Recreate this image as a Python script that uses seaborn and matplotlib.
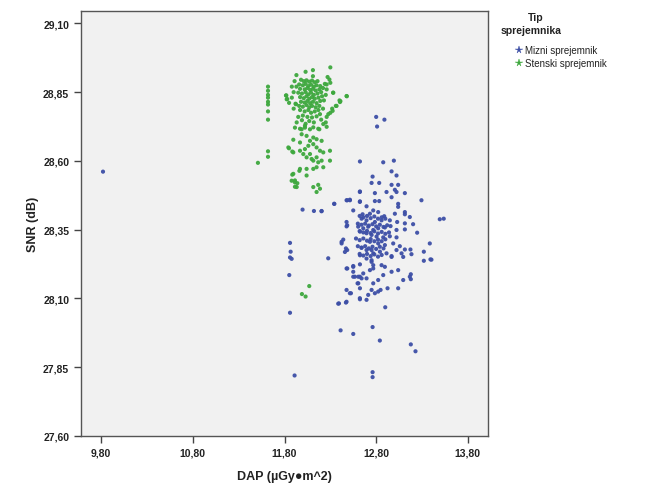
import matplotlib
matplotlib.use("Agg")
import matplotlib.pyplot as plt
import seaborn as sns
import pandas as pd
from matplotlib.lines import Line2D
from matplotlib.ticker import FuncFormatter

# ---------------- data ----------------
group_names = ["Mizni sprejemnik", "Stenski sprejemnik"]
group_colors = ["#3d4fa6", "#3ea83e"]

x_ticks = [9.80, 10.80, 11.80, 12.80, 13.80]
y_ticks = [27.60, 27.85, 28.10, 28.35, 28.60, 28.85, 29.10]

stenski_dap = [
    11.62, 11.62, 11.62, 11.62, 11.62, 11.62, 11.62, 11.62, 11.62, 11.62, 11.51, 12.07, 11.99, 12.03,
    12.11, 12.30, 12.03, 11.93, 12.11, 12.29, 12.30, 12.26,
    11.98, 12.01, 12.04, 12.07, 12.10, 12.13, 12.16,
    11.96, 12.00, 12.03, 12.06, 12.09, 12.12, 12.15, 12.19,
    11.97, 12.02, 12.05, 12.08, 12.11, 12.14, 12.18, 12.22,
    11.95, 11.99, 12.03, 12.06, 12.09, 12.12, 12.16, 12.20,
    11.97, 12.01, 12.04, 12.07, 12.10, 12.13, 12.17, 12.21,
    11.98, 12.02, 12.05, 12.08, 12.11, 12.15, 12.19,
    11.96, 12.00, 12.04, 12.07, 12.10, 12.14, 12.18,
    11.82, 11.83, 11.92, 12.33, 12.40, 12.36, 12.32, 12.30, 12.26, 12.25, 12.48, 12.41, 11.85,
    11.914, 11.969, 12.023, 12.078, 12.168, 11.987, 12.041, 12.114, 12.15, 11.896, 12.205, 12.078,
    11.969, 11.842, 11.896, 11.969, 12.023, 12.06, 12.114, 12.15, 12.187, 12.223, 12.296, 12.005,
    12.041, 12.078, 12.096, 12.114, 12.15, 12.168, 12.205, 12.223, 12.296, 11.969, 12.041, 12.114,
    12.15, 11.896, 12.041, 11.914, 11.933, 12.114, 12.168, 12.187, 12.15,
    11.933, 12.023, 12.114, 12.18, 11.987, 12.223, 12.26, 12.325, 12.278, 12.187, 12.405, 12.368,
    12.477, 12.332, 11.816, 11.824, 11.925,
    11.97, 12.02, 12.06, 12.09, 12.13, 12.17, 12.00, 12.05, 12.10, 12.15, 11.99, 12.07, 12.12, 12.20,
    11.95, 12.03,
    11.849, 11.885, 11.878, 11.914, 11.94, 11.914, 11.962, 11.885,
    11.88, 11.90, 11.88, 11.91, 12.24, 12.26, 12.25, 12.23, 11.90, 12.22, 11.93, 12.27,
]
stenski_snr = [
    28.87, 28.855, 28.84, 28.83, 28.815, 28.805, 28.78, 28.75, 28.635, 28.615, 28.593, 28.145, 28.116, 28.107,
    28.930, 28.940, 28.924, 28.912, 28.908, 28.896, 28.884, 28.878,
    28.895, 28.89, 28.893, 28.888, 28.892, 28.886, 28.89,
    28.878, 28.875, 28.88, 28.872, 28.877, 28.87, 28.875, 28.872,
    28.862, 28.86, 28.865, 28.858, 28.862, 28.856, 28.86, 28.865,
    28.848, 28.845, 28.85, 28.842, 28.848, 28.84, 28.845, 28.85,
    28.832, 28.828, 28.835, 28.826, 28.832, 28.826, 28.83, 28.835,
    28.815, 28.812, 28.818, 28.81, 28.815, 28.81, 28.818,
    28.80, 28.797, 28.803, 28.795, 28.80, 28.795, 28.80,
    28.838, 28.825, 28.808, 28.848, 28.82, 28.80, 28.79, 28.775, 28.76, 28.74, 28.835, 28.817, 28.811,
    28.721, 28.717, 28.721, 28.715, 28.717, 28.697, 28.691, 28.685, 28.679, 28.677, 28.673, 28.673,
    28.667, 28.649, 28.631, 28.637, 28.643, 28.655, 28.661, 28.649, 28.637, 28.631, 28.637, 28.625,
    28.613, 28.625, 28.607, 28.601, 28.613, 28.595, 28.601, 28.577, 28.601, 28.571, 28.571, 28.571,
    28.577, 28.553, 28.547, 28.529, 28.505, 28.505, 28.513, 28.499, 28.487,
    28.74, 28.728, 28.722, 28.715, 28.715, 28.734, 28.724, 28.782, 28.77, 28.77, 28.814, 28.80,
    28.836, 28.848, 28.838, 28.824, 28.806,
    28.785, 28.78, 28.785, 28.775, 28.78, 28.785, 28.765, 28.76, 28.758, 28.762, 28.748, 28.745, 28.74, 28.75,
    28.76, 28.735,
    28.646, 28.634, 28.528, 28.522, 28.519, 28.506, 28.564, 28.55,
    28.87, 28.85, 28.83, 28.89, 28.88, 28.86, 28.84, 28.82, 28.79, 28.79, 28.87, 28.905,
]

mizni_dap = [
    9.82, 12.80, 12.89, 12.81, 11.997, 12.121, 12.204, 12.342, 12.484, 12.513, 12.622, 12.622,
    11.86, 11.867, 11.86, 11.878, 11.852, 12.277, 12.477, 12.484, 12.423, 12.441, 12.47, 12.484,
    12.477, 12.55, 12.55, 12.568, 12.605, 12.477, 12.513, 12.622, 12.386, 12.47, 11.86, 11.91,
    12.761, 12.761, 12.412, 12.55, 12.761, 12.84, 13.178, 13.229, 12.899, 12.394, 12.477, 12.623,
    12.695, 12.525, 12.623, 12.713, 12.786, 12.822, 12.848, 12.75, 12.924, 13.04, 12.597, 12.641,
    12.695, 12.768, 12.822, 13.095, 12.968, 13.178, 13.178, 12.485, 12.623, 12.623, 12.695, 12.75,
    12.768, 12.732, 12.659, 12.605, 13.403, 13.185, 13.095, 12.968, 12.459, 12.877,
    12.623, 12.877, 12.993, 12.968, 13.022, 12.761, 12.75, 12.833, 12.968, 13.04, 13.004, 12.623,
    12.786, 12.913, 13.022, 13.113, 12.968, 12.477, 12.514, 12.623, 12.786, 12.833, 12.343, 13.04,
    13.04, 13.294, 12.695, 12.768, 12.55, 12.205, 13.113, 13.113, 13.167, 13.494, 13.537, 13.004,
    12.888, 12.652, 12.732, 12.822, 12.477, 12.641, 12.695, 12.786, 12.859, 12.949, 13.029, 13.113,
    13.203, 13.247, 13.113, 13.022, 12.604, 12.659, 12.713, 12.768, 12.822, 12.895, 12.957, 12.623,
    12.695, 12.75, 12.804, 12.877, 12.949, 13.022, 12.732, 12.822, 12.895, 12.986, 13.058, 12.423,
    12.641, 12.695, 12.75, 12.768, 12.841, 12.913, 12.968, 13.022, 13.077, 13.113, 13.174, 13.385,
    13.32, 13.392, 13.32, 12.55, 12.55, 12.75, 12.768, 12.859, 12.895, 13.04, 13.167, 12.623,
    12.62, 12.66, 12.70, 12.74, 12.78, 12.82, 12.86, 12.90,
    12.60, 12.64, 12.68, 12.72, 12.76, 12.80, 12.84, 12.88, 12.92,
    12.62, 12.66, 12.70, 12.74, 12.78, 12.82, 12.86, 12.90, 12.94,
    12.58, 12.62, 12.66, 12.70, 12.74, 12.78, 12.82, 12.86, 12.90,
    12.60, 12.64, 12.68, 12.72, 12.76, 12.80, 12.84, 12.88,
    12.62, 12.66, 12.70, 12.74, 12.78, 12.82, 12.86,
]
mizni_snr = [
    28.561, 28.76, 28.75, 28.725, 28.423, 28.418, 28.417, 28.444, 28.457, 28.459, 28.487, 28.451,
    28.302, 28.27, 28.249, 28.244, 28.185, 28.246, 28.378, 28.366, 28.306, 28.314, 28.282, 28.276,
    28.209, 28.215, 28.197, 28.179, 28.155, 28.131, 28.119, 28.101, 28.081, 28.085, 28.048, 27.82,
    27.832, 27.814, 27.984, 27.971, 27.996, 27.947, 27.933, 27.908, 28.068, 28.082, 28.088, 28.097,
    28.095, 28.119, 28.137, 28.113, 28.119, 28.125, 28.131, 28.131, 28.137, 28.137, 28.155, 28.173,
    28.173, 28.155, 28.167, 28.167, 28.197, 28.188, 28.17, 28.209, 28.224, 28.257, 28.245, 28.239,
    28.221, 28.203, 28.191, 28.179, 28.241, 28.261, 28.251, 28.251, 28.269, 28.185,
    28.598, 28.595, 28.601, 28.562, 28.547, 28.543, 28.52, 28.52, 28.513, 28.513, 28.495, 28.489,
    28.483, 28.487, 28.487, 28.483, 28.468, 28.457, 28.457, 28.453, 28.454, 28.454, 28.444, 28.444,
    28.433, 28.457, 28.435, 28.42, 28.42, 28.418, 28.414, 28.406, 28.396, 28.388, 28.39, 28.408,
    28.399, 28.406, 28.408, 28.414, 28.362, 28.39, 28.384, 28.378, 28.384, 28.384, 28.378, 28.373,
    28.37, 28.339, 28.351, 28.349, 28.361, 28.355, 28.361, 28.349, 28.355, 28.358, 28.363, 28.343,
    28.337, 28.331, 28.325, 28.322, 28.326, 28.322, 28.306, 28.30, 28.294, 28.30, 28.29, 28.30,
    28.285, 28.276, 28.276, 28.264, 28.27, 28.264, 28.254, 28.276, 28.264, 28.278, 28.278, 28.30,
    28.27, 28.242, 28.237, 28.218, 28.179, 28.233, 28.209, 28.221, 28.215, 28.203, 28.179, 28.179,
    28.40, 28.395, 28.40, 28.392, 28.398, 28.39, 28.395, 28.39,
    28.372, 28.368, 28.372, 28.365, 28.37, 28.362, 28.368, 28.36, 28.366,
    28.345, 28.34, 28.346, 28.338, 28.344, 28.336, 28.342, 28.335, 28.34,
    28.318, 28.312, 28.318, 28.31, 28.316, 28.308, 28.314, 28.308, 28.315,
    28.29, 28.284, 28.29, 28.282, 28.288, 28.28, 28.288, 28.282,
    28.262, 28.256, 28.262, 28.254, 28.26, 28.252, 28.258,
]

# ---------------- table ----------------
df = pd.concat([
    pd.DataFrame({"DAP": mizni_dap, "SNR": mizni_snr, "Tip": group_names[0]}),
    pd.DataFrame({"DAP": stenski_dap, "SNR": stenski_snr, "Tip": group_names[1]}),
], ignore_index=True)

# ---------------- style ----------------
sns.set_style("white")
plt.rcParams["font.family"] = ["Liberation Sans", "DejaVu Sans"]

fig = plt.figure(figsize=(6.5, 4.89), dpi=100)
fig.patch.set_facecolor("white")
ax = fig.add_axes([81 / 650, 1 - 437 / 489, (488 - 81) / 650, (437 - 12) / 489])
ax.set_facecolor("#f1f1f1")

sns.scatterplot(data=df, x="DAP", y="SNR", hue="Tip", hue_order=group_names,
                palette=dict(zip(group_names, group_colors)), s=9, linewidth=0,
                alpha=0.95, ax=ax, legend=False)

ax.set_xlim(9.58, 14.02)
ax.set_ylim(27.60, 29.145)
ax.set_xticks(x_ticks)
ax.set_yticks(y_ticks)
fmt = FuncFormatter(lambda v, _: f"{v:.2f}".replace(".", ","))
ax.xaxis.set_major_formatter(fmt)
ax.yaxis.set_major_formatter(fmt)
ax.tick_params(axis="both", which="major", direction="out", length=5, width=1,
               color="#444444", labelsize=7.5, labelcolor="#222222", bottom=True, left=True)
for lab in ax.get_xticklabels() + ax.get_yticklabels():
    lab.set_fontweight("bold")
for sp in ax.spines.values():
    sp.set_color("#555555")
    sp.set_linewidth(1.0)

ax.set_xlabel("DAP (µGy●m^2)", fontsize=9, fontweight="bold", color="#222222", labelpad=9)
ax.set_ylabel("SNR (dB)", fontsize=9, fontweight="bold", color="#222222", labelpad=3)

# ---------------- legend ----------------
fig.text(536 / 650, 1 - 18 / 489, "Tip", ha="center", va="center",
         fontsize=7.5, fontweight="bold", color="#222222")
fig.text(531 / 650, 1 - 31 / 489, "sprejemnika", ha="center", va="center",
         fontsize=7.5, fontweight="bold", color="#222222")
handles = [Line2D([], [], linestyle="none", marker="*", markersize=5.5,
                  markerfacecolor=c, markeredgecolor=c, markeredgewidth=0.3)
           for c in group_colors]
leg = fig.legend(handles, group_names, loc="upper left",
                 bbox_to_anchor=(516 / 650, 1 - 46 / 489), frameon=False,
                 fontsize=7, handlelength=0.7, handletextpad=0.25,
                 labelspacing=0.35, borderaxespad=0, borderpad=0)
for t in leg.get_texts():
    t.set_color("#222222")

fig.savefig("out.png", dpi=100, facecolor="white")
